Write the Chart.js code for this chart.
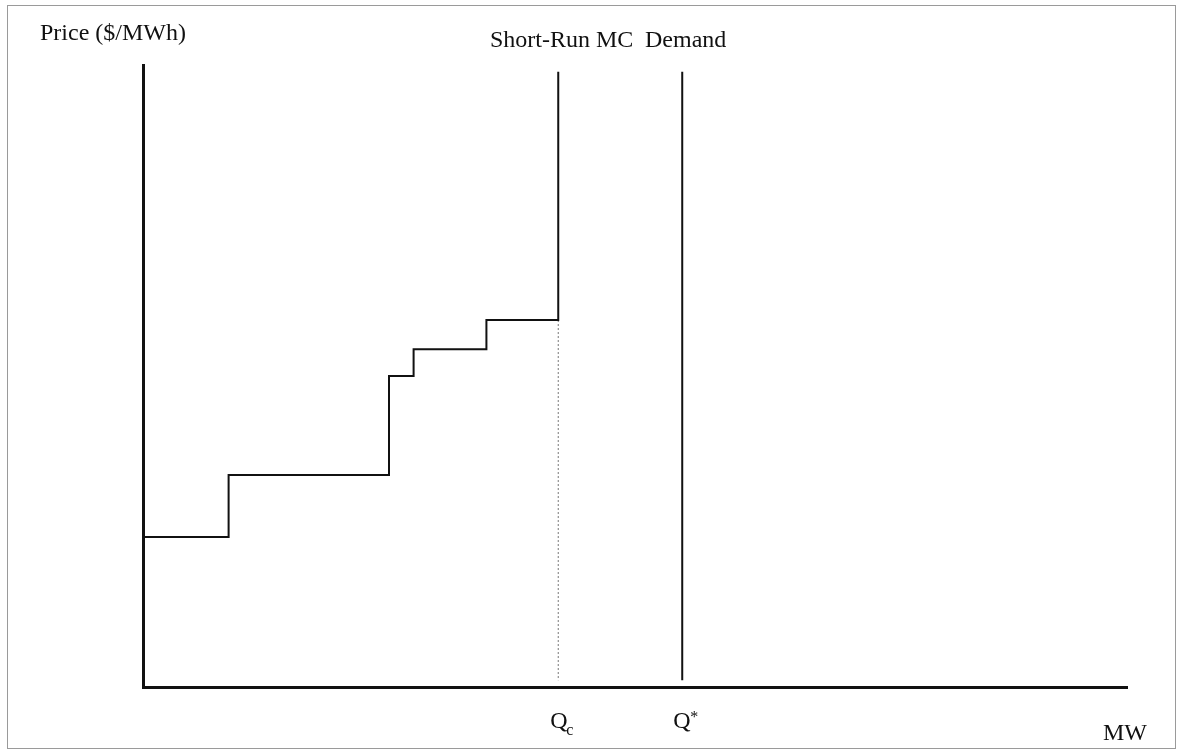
<!DOCTYPE html>
<html>
<head>
<meta charset="utf-8">
<script src="https://cdn.jsdelivr.net/npm/chart.js@4/dist/chart.umd.min.js"></script>
<style>
    html, body { margin: 0; padding: 0; background: #fff; }
    #wrap { width: 1177px; height: 751px; }
</style>
</head>
<body>
<div id="wrap"><canvas id="chart"></canvas></div>
<script>
// quantities (arbitrary MW units, 0-100) and prices (arbitrary $/MWh units, 0-100)
var stepQty = [0, 8.7, 8.7, 25.0, 25.0, 27.5, 27.5, 34.9, 34.9, 42.2, 42.2];
var stepPrice = [24.1, 24.1, 34.1, 34.1, 50.0, 50.0, 54.3, 54.3, 59.0, 59.0, 98.9];
var capacityQty = 42.2;   // Qc
var demandQty = 54.8;     // Q*
var lineTop = 98.9;
var lineBottom = 1.1;
var capPrice = 59.0;

var yTitle = 'Price ($/MWh)';
var xTitle = 'MW';
var srmcLabel = 'Short-Run MC';
var demandLabel = 'Demand';

function pts(xs, ys) {
    return xs.map(function (x, i) { return { x: x, y: ys[i] }; });
}

var labelsPlugin = {
    id: 'labels',
    afterDraw: function (chart) {
        var ctx = chart.ctx;
        var xs = chart.scales.x;
        ctx.save();
        // outer frame
        ctx.strokeStyle = '#9a9a9a';
        ctx.lineWidth = 1;
        ctx.strokeRect(7.5, 5.5, 1168, 743);

        ctx.fillStyle = '#111';
        ctx.font = '24px "Liberation Serif", serif';
        ctx.textBaseline = 'alphabetic';
        ctx.textAlign = 'left';
        ctx.fillText(yTitle, 40, 40);
        ctx.fillText(srmcLabel, 490, 47);
        ctx.fillText(demandLabel, 645, 47);
        ctx.fillText(xTitle, 1103, 740);

        // Qc and Q* under the axis
        var qcX = xs.getPixelForValue(capacityQty);
        var qsX = xs.getPixelForValue(demandQty);
        ctx.fillText('Q', qcX - 8, 728);
        ctx.fillText('Q', qsX - 9, 728);
        ctx.font = '16px "Liberation Serif", serif';
        ctx.fillText('c', qcX + 8, 735);
        ctx.fillText('*', qsX + 8, 722);
        ctx.restore();
    }
};

new Chart(document.getElementById('chart'), {
    type: 'scatter',
    data: {
        datasets: [{
            label: 'Short-Run MC',
            data: pts(stepQty, stepPrice),
            showLine: true,
            borderColor: '#111',
            borderWidth: 2,
            pointRadius: 0,
            fill: false,
            tension: 0
        }, {
            label: 'Capacity',
            data: pts([capacityQty, capacityQty], [capPrice, lineBottom]),
            showLine: true,
            borderColor: '#777',
            borderWidth: 1,
            borderDash: [2, 2],
            pointRadius: 0
        }, {
            label: 'Demand',
            data: pts([demandQty, demandQty], [lineTop, lineBottom]),
            showLine: true,
            borderColor: '#111',
            borderWidth: 2,
            pointRadius: 0
        }]
    },
    options: {
        responsive: true,
        maintainAspectRatio: false,
        animation: false,
        layout: { padding: { left: 143, right: 50, top: 65, bottom: 64 } },
        plugins: {
            legend: { display: false },
            tooltip: { enabled: false }
        },
        scales: {
            x: {
                type: 'linear',
                min: 0,
                max: 100,
                ticks: { display: false },
                grid: { display: false, drawTicks: false },
                border: { display: true, color: '#111', width: 3 }
            },
            y: {
                type: 'linear',
                min: 0,
                max: 100,
                ticks: { display: false },
                grid: { display: false, drawTicks: false },
                border: { display: true, color: '#111', width: 3 }
            }
        }
    },
    plugins: [labelsPlugin]
});
</script>
</body>
</html>
